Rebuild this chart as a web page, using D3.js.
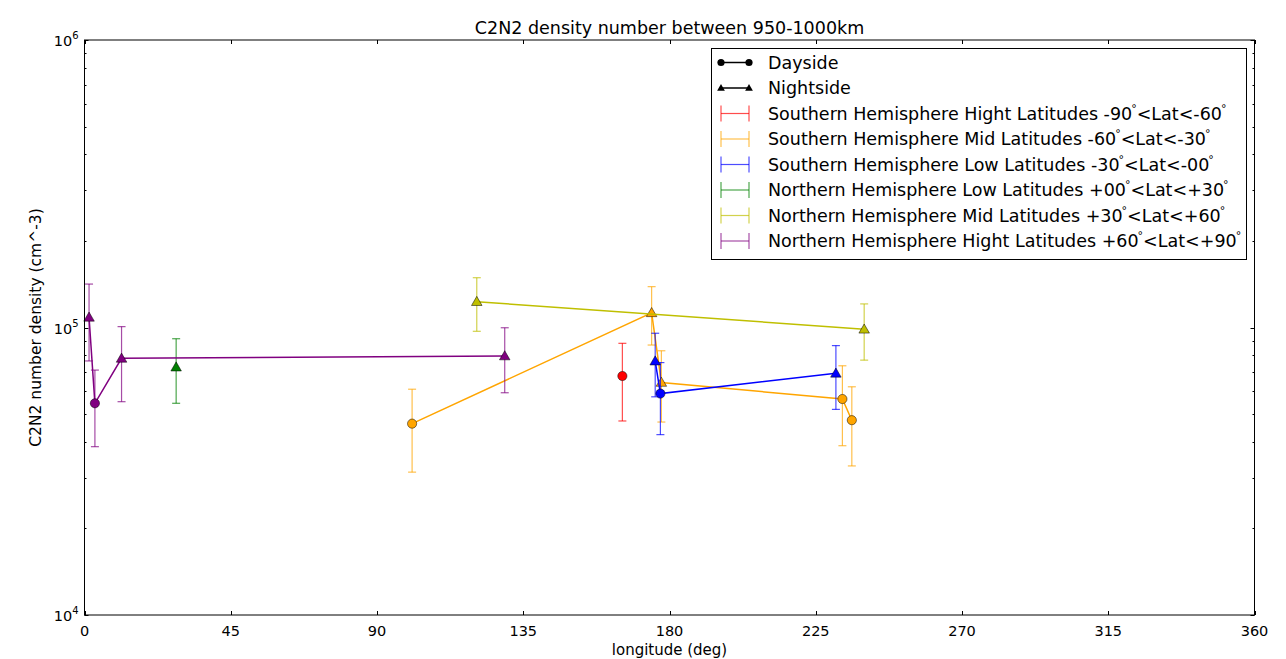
<!DOCTYPE html>
<html>
<head>
<meta charset="utf-8">
<script src="https://cdn.jsdelivr.net/npm/d3@7/dist/d3.min.js"></script>
<style>
  html, body { margin: 0; padding: 0; background: #fff; }
  svg { display: block; font-family: "DejaVu Sans", sans-serif; }
</style>
</head>
<body>
<svg id="chart" width="1286" height="659"></svg>
<script>
// ---------- DATA ----------
const chartTitle = "C2N2 density number between 950-1000km";
const xLabel = "longitude (deg)";
const yLabel = "C2N2 number density (cm^-3)";
const xTicks = [0, 45, 90, 135, 180, 225, 270, 315, 360];
const yMajorExponents = [4, 5, 6];

const seriesNames = [
  "Southern Hemisphere Hight Latitudes -90°<Lat<-60°",
  "Southern Hemisphere Mid Latitudes -60°<Lat<-30°",
  "Southern Hemisphere Low Latitudes -30°<Lat<-00°",
  "Northern Hemisphere Low Latitudes +00°<Lat<+30°",
  "Northern Hemisphere Mid Latitudes +30°<Lat<+60°",
  "Northern Hemisphere Hight Latitudes +60°<Lat<+90°"
];
const seriesColors = ["#ff0000", "#ffa500", "#0000ff", "#008000", "#bfbf00", "#800080"];

// rows: [longitude, density, lower error bound, upper error bound, side]
const southHigh = [
  [165.5, 67800, 47300, 88100, "day"]
];
const southMid = [
  [100.8, 46300, 31400, 61000, "day"],
  [174.5, 112500, 86900, 138700, "night"],
  [177.5, 64400, 46900, 83000, "night"],
  [233.2, 56400, 38800, 73600, "day"],
  [236.1, 47600, 33000, 62200, "day"]
];
const southLow = [
  [175.6, 76400, 57400, 95500, "night"],
  [177.2, 58900, 42400, 75500, "day"],
  [231.2, 69300, 51900, 86500, "night"]
];
const northLow = [
  [28.2, 72800, 54500, 91400, "night"]
];
const northMid = [
  [120.7, 123000, 97000, 149000, "night"],
  [239.9, 98600, 77000, 120800, "night"]
];
const northHigh = [
  [1.4, 108500, 76500, 141600, "night"],
  [3.2, 54500, 38500, 71100, "day"],
  [11.4, 78100, 55200, 100700, "night"],
  [129.3, 79600, 59300, 99800, "night"]
];
const seriesData = [southHigh, southMid, southLow, northLow, northMid, northHigh];
const sideNames = ["Dayside", "Nightside"];

// ---------- LAYOUT ----------
const svg = d3.select("#chart");
const plot = { left: 84.5, right: 1254.5, top: 40, bottom: 615 };

const x = d3.scaleLinear().domain([0, 360]).range([plot.left, plot.right]);
const y = d3.scaleLog().domain([1e4, 1e6]).range([plot.bottom, plot.top]);

// ---------- AXES / TICKS ----------
const axisG = svg.append("g");
const majorLen = 4, minorLen = 2;
xTicks.forEach(t => {
  const px = Math.round(x(t)) + 0.5;
  axisG.append("line").attr("x1", px).attr("x2", px).attr("y1", plot.bottom).attr("y2", plot.bottom - majorLen).attr("stroke", "#000");
  axisG.append("line").attr("x1", px).attr("x2", px).attr("y1", plot.top).attr("y2", plot.top + majorLen).attr("stroke", "#000");
  axisG.append("text").attr("x", x(t)).attr("y", plot.bottom + 21)
    .attr("text-anchor", "middle").attr("font-size", 14.5).attr("fill", "#000").text(t);
});
const minorVals = [];
for (let e = 4; e < 6; e++) for (let m = 2; m <= 9; m++) minorVals.push(m * Math.pow(10, e));
minorVals.forEach(v => {
  const py = Math.round(y(v)) + 0.5;
  axisG.append("line").attr("x1", plot.left).attr("x2", plot.left + minorLen).attr("y1", py).attr("y2", py).attr("stroke", "#000");
  axisG.append("line").attr("x1", plot.right).attr("x2", plot.right - minorLen).attr("y1", py).attr("y2", py).attr("stroke", "#000");
});
yMajorExponents.forEach(e => {
  const v = Math.pow(10, e);
  const py = Math.round(y(v)) + 0.5;
  axisG.append("line").attr("x1", plot.left).attr("x2", plot.left + majorLen).attr("y1", py).attr("y2", py).attr("stroke", "#000");
  axisG.append("line").attr("x1", plot.right).attr("x2", plot.right - majorLen).attr("y1", py).attr("y2", py).attr("stroke", "#000");
  const t = axisG.append("text").attr("x", plot.left - 6).attr("y", y(v) + 6)
    .attr("text-anchor", "end").attr("font-size", 14.5).attr("fill", "#000");
  t.append("tspan").text("10");
  t.append("tspan").attr("dy", -7).attr("font-size", 10).text(String(e));
});

svg.append("text").attr("x", (plot.left + plot.right) / 2).attr("y", 34)
  .attr("text-anchor", "middle").attr("font-size", 17.5).attr("fill", "#000").text(chartTitle);
svg.append("text").attr("x", (plot.left + plot.right) / 2).attr("y", 655)
  .attr("text-anchor", "middle").attr("font-size", 15).attr("fill", "#000").text(xLabel);
svg.append("text").attr("transform", `translate(41,${(plot.top + plot.bottom) / 2}) rotate(-90)`)
  .attr("text-anchor", "middle").attr("font-size", 15.5).attr("fill", "#000").text(yLabel);

// ---------- MARKS ----------
const dataG = svg.append("g");
const triPath = d3.symbol().type(d3.symbolTriangle).size(48)();
function drawMarker(g, px, py, side, color) {
  if (side === "day") {
    g.append("circle").attr("cx", px).attr("cy", py).attr("r", 4.6)
      .attr("fill", color).attr("stroke", "#000").attr("stroke-width", 0.5);
  } else {
    g.append("path").attr("d", triPath).attr("transform", `translate(${px},${py + 0.8})`)
      .attr("fill", color).attr("stroke", "#000").attr("stroke-width", 0.5);
  }
}
const line = d3.line().x(d => x(d[0])).y(d => y(d[1]));

seriesData.forEach((rows, i) => {
  const color = seriesColors[i];
  const g = dataG.append("g");
  const sorted = rows.slice().sort((a, b) => a[0] - b[0]);
  sorted.forEach(r => {
    const px = x(r[0]);
    g.append("line").attr("x1", px).attr("x2", px).attr("y1", y(r[2])).attr("y2", y(r[3]))
      .attr("stroke", color).attr("stroke-opacity", 0.7).attr("stroke-width", 1.2);
    [r[2], r[3]].forEach(v => {
      g.append("line").attr("x1", px - 4).attr("x2", px + 4).attr("y1", y(v)).attr("y2", y(v))
        .attr("stroke", color).attr("stroke-opacity", 0.7).attr("stroke-width", 1.2);
    });
  });
  if (sorted.length > 1) {
    g.append("path").datum(sorted).attr("d", line).attr("fill", "none")
      .attr("stroke", color).attr("stroke-width", 1.5);
  }
  sorted.forEach(r => drawMarker(g, x(r[0]), y(r[1]), r[4], color));
});

svg.append("rect").attr("x", plot.left).attr("y", plot.top)
  .attr("width", plot.right - plot.left).attr("height", plot.bottom - plot.top)
  .attr("fill", "none").attr("stroke", "#000").attr("stroke-width", 1);

// ---------- LEGEND ----------
const leg = svg.append("g");
const lg = { x: 711.5, y: 48.5, w: 535, h: 211 };
leg.append("rect").attr("x", lg.x).attr("y", lg.y).attr("width", lg.w).attr("height", lg.h)
  .attr("fill", "#fff").attr("stroke", "#000").attr("stroke-width", 1);
const rowY0 = 62.5, rowStep = 25.5;
const hx1 = 721, hx2 = 749, tx = 768;
function addLabel(text, yy) {
  const t = leg.append("text").attr("x", tx).attr("y", yy + 6).attr("font-size", 17.5).attr("fill", "#000");
  const parts = text.split("°");
  parts.forEach((p, k) => {
    if (p.length) {
      const sp = t.append("tspan").text(p);
      if (k > 0) sp.attr("dy", 8);
    }
    if (k < parts.length - 1) {
      t.append("tspan").attr("dy", -8).attr("dx", -1).attr("font-size", 11).text("°");
    }
  });
}
sideNames.forEach((name, k) => {
  const yy = rowY0 + k * rowStep;
  leg.append("line").attr("x1", hx1).attr("x2", hx2).attr("y1", yy).attr("y2", yy)
    .attr("stroke", "#000").attr("stroke-width", 1.5);
  [hx1, hx2].forEach(px => {
    if (k === 0) leg.append("circle").attr("cx", px).attr("cy", yy).attr("r", 3.6).attr("fill", "#000");
    else leg.append("path").attr("d", d3.symbol().type(d3.symbolTriangle).size(26)()).attr("transform", `translate(${px},${yy + 0.5})`).attr("fill", "#000");
  });
  addLabel(name, yy);
});
seriesNames.forEach((name, i) => {
  const yy = rowY0 + (i + 2) * rowStep;
  const c = seriesColors[i];
  leg.append("line").attr("x1", hx1).attr("x2", hx2).attr("y1", yy).attr("y2", yy).attr("stroke", c).attr("stroke-opacity", 0.7).attr("stroke-width", 1.2);
  [hx1, hx2].forEach(px => {
    leg.append("line").attr("x1", px).attr("x2", px).attr("y1", yy - 8).attr("y2", yy + 8).attr("stroke", c).attr("stroke-opacity", 0.7).attr("stroke-width", 1.2);
  });
  addLabel(name, yy);
});
</script>
</body>
</html>
